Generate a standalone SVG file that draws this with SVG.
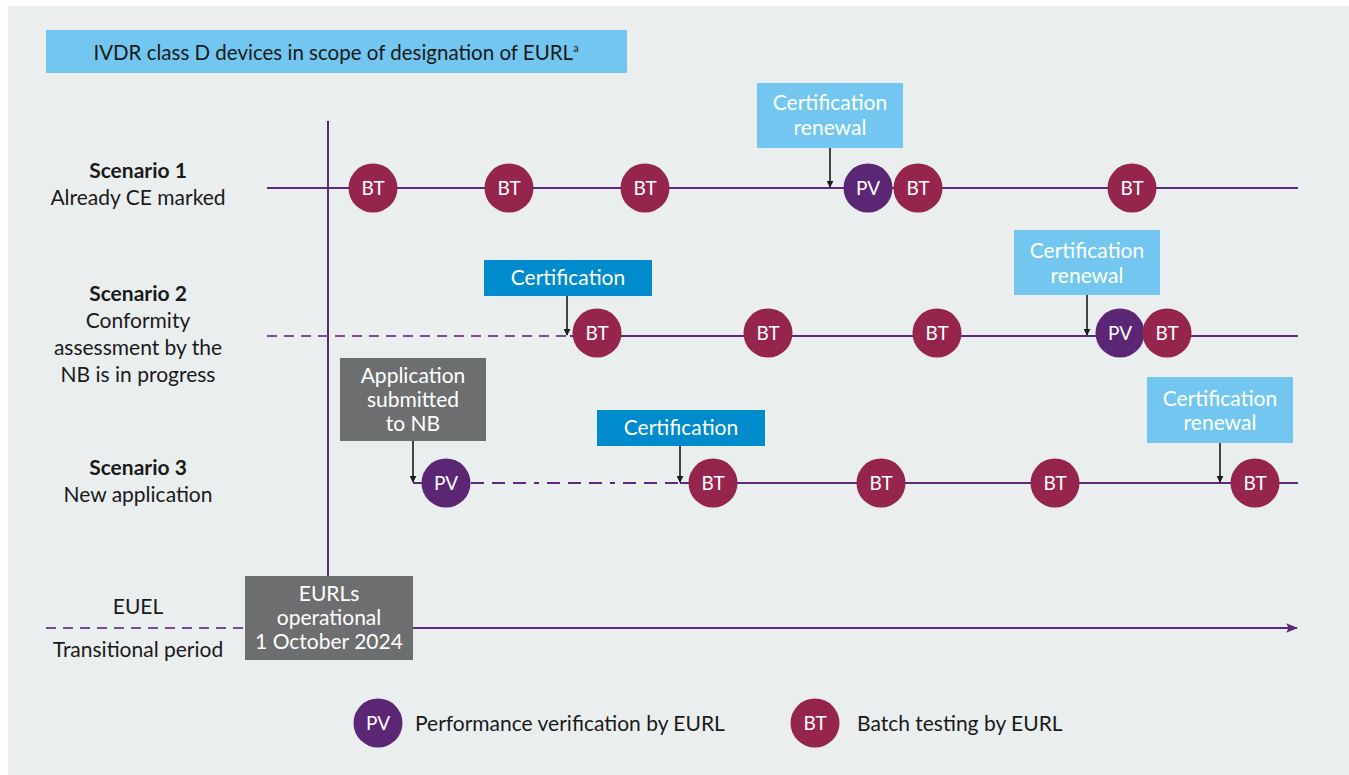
<svg xmlns="http://www.w3.org/2000/svg" width="1349" height="775" viewBox="0 0 1349 775">
<defs>
<style>
.t{font-family:Lato,"Open Sans","Liberation Sans",sans-serif;font-size:21px;fill:#1a1a1a;text-anchor:middle}
.b{font-weight:bold}
.w{fill:#ffffff}
.c{font-size:19px}
.lt{stroke:#5c2a78;stroke-width:2;fill:none}
.ds{stroke-dasharray:10 7;stroke:#7d4c96}
.dd{stroke-dasharray:13 8 13 8 13 8 5 8}
.ar{stroke:#1a1a1a;stroke-width:1.6;fill:none;marker-end:url(#ah)}
.bt{fill:#95254d}
.pv{fill:#5b2775}
.lb{fill:#73c6ef}
.db{fill:#008bcd}
.gr{fill:#6d6e70}
</style>
<marker id="ah" viewBox="0 0 10 10" refX="9" refY="5" markerWidth="7" markerHeight="7" orient="auto" markerUnits="userSpaceOnUse">
<path d="M0,0 L10,5 L0,10 z" fill="#1a1a1a"/>
</marker>
<marker id="ahp" viewBox="0 0 10 10" refX="9" refY="5" markerWidth="12" markerHeight="12" orient="auto" markerUnits="userSpaceOnUse">
<path d="M0,1 L10,5 L0,9 L2,5 z" fill="#5c2a78"/>
</marker>
</defs>
<rect x="0" y="0" width="1349" height="775" fill="#ffffff"/>
<rect x="8" y="6" width="1341" height="769" fill="#eaeeef"/>

<g id="header">
<rect x="46" y="30" width="581" height="43" class="lb"/>
<text x="336" y="60" class="t" style="font-size:20.5px">IVDR class D devices in scope of designation of EURL<tspan font-size="11" dy="-8">a</tspan></text>
</g>

<g id="labels">
<text x="138" y="178" class="t b">Scenario 1</text>
<text x="138" y="205" class="t">Already CE marked</text>
<text x="138" y="301" class="t b">Scenario 2</text>
<text x="138" y="328" class="t">Conformity</text>
<text x="138" y="355" class="t">assessment by the</text>
<text x="138" y="382" class="t">NB is in progress</text>
<text x="138" y="475" class="t b">Scenario 3</text>
<text x="138" y="502" class="t">New application</text>
<text x="138" y="614" class="t">EUEL</text>
<text x="138" y="657" class="t">Transitional period</text>
</g>

<g id="connectors">
<line x1="328" y1="121" x2="328" y2="577" class="lt"/>
<line x1="267" y1="188" x2="1298" y2="188" class="lt"/>
<line x1="267" y1="336" x2="570" y2="336" class="lt ds"/>
<line x1="570" y1="336" x2="1298" y2="336" class="lt"/>
<line x1="413" y1="483" x2="440" y2="483" class="lt"/>
<line x1="471" y1="483" x2="680" y2="483" class="lt dd"/>
<line x1="680" y1="483" x2="1298" y2="483" class="lt"/>
<line x1="46" y1="628" x2="245" y2="628" class="lt ds"/>
<line x1="413" y1="628" x2="1297" y2="628" class="lt" marker-end="url(#ahp)"/>
<line x1="830" y1="148" x2="830" y2="187" class="ar"/>
<line x1="567" y1="296" x2="567" y2="335" class="ar"/>
<line x1="1087" y1="295" x2="1087" y2="335" class="ar"/>
<line x1="413" y1="441" x2="413" y2="482" class="ar"/>
<line x1="680" y1="446" x2="680" y2="482" class="ar"/>
<line x1="1220" y1="443" x2="1220" y2="482" class="ar"/>
</g>

<g id="cert-renewal-1"><rect x="757" y="83" width="146" height="65" class="lb"/><text x="830" y="110" class="t w">Certification</text><text x="830" y="135" class="t w">renewal</text></g>
<g id="cert-2"><rect x="484" y="260" width="168" height="36" class="db"/><text x="568" y="285" class="t w">Certification</text></g>
<g id="cert-renewal-2"><rect x="1014" y="230" width="146" height="65" class="lb"/><text x="1087" y="258" class="t w">Certification</text><text x="1087" y="283" class="t w">renewal</text></g>
<g id="application"><rect x="340" y="358" width="146" height="83" class="gr"/><text x="413" y="383" class="t w">Application</text><text x="413" y="407" class="t w">submitted</text><text x="413" y="431" class="t w">to NB</text></g>
<g id="cert-3"><rect x="597" y="410" width="168" height="36" class="db"/><text x="681" y="435" class="t w">Certification</text></g>
<g id="cert-renewal-3"><rect x="1147" y="377" width="146" height="66" class="lb"/><text x="1220" y="406" class="t w">Certification</text><text x="1220" y="430" class="t w">renewal</text></g>
<g id="eurls"><rect x="245" y="576" width="168" height="84" class="gr"/><text x="329" y="601" class="t w">EURLs</text><text x="329" y="625" class="t w">operational</text><text x="329" y="649" class="t w">1 October 2024</text></g>

<g id="s1-bt1"><circle cx="373" cy="188" r="24.5" class="bt"/><text x="373" y="195" class="t w c">BT</text></g>
<g id="s1-bt2"><circle cx="509" cy="188" r="24.5" class="bt"/><text x="509" y="195" class="t w c">BT</text></g>
<g id="s1-bt3"><circle cx="645" cy="188" r="24.5" class="bt"/><text x="645" y="195" class="t w c">BT</text></g>
<g id="s1-pv"><circle cx="868" cy="188" r="24.5" class="pv"/><text x="868" y="195" class="t w c">PV</text></g>
<g id="s1-bt4"><circle cx="918" cy="188" r="24.5" class="bt"/><text x="918" y="195" class="t w c">BT</text></g>
<g id="s1-bt5"><circle cx="1132" cy="188" r="24.5" class="bt"/><text x="1132" y="195" class="t w c">BT</text></g>

<g id="s2-bt1"><circle cx="597" cy="333" r="24.5" class="bt"/><text x="597" y="340" class="t w c">BT</text></g>
<g id="s2-bt2"><circle cx="768" cy="333" r="24.5" class="bt"/><text x="768" y="340" class="t w c">BT</text></g>
<g id="s2-bt3"><circle cx="937" cy="333" r="24.5" class="bt"/><text x="937" y="340" class="t w c">BT</text></g>
<g id="s2-pv"><circle cx="1120" cy="333" r="24.5" class="pv"/><text x="1120" y="340" class="t w c">PV</text></g>
<g id="s2-bt4"><circle cx="1167" cy="333" r="24.5" class="bt"/><text x="1167" y="340" class="t w c">BT</text></g>

<g id="s3-pv"><circle cx="446" cy="483" r="24.5" class="pv"/><text x="446" y="490" class="t w c">PV</text></g>
<g id="s3-bt1"><circle cx="713" cy="483" r="24.5" class="bt"/><text x="713" y="490" class="t w c">BT</text></g>
<g id="s3-bt2"><circle cx="881" cy="483" r="24.5" class="bt"/><text x="881" y="490" class="t w c">BT</text></g>
<g id="s3-bt3"><circle cx="1055" cy="483" r="24.5" class="bt"/><text x="1055" y="490" class="t w c">BT</text></g>
<g id="s3-bt4"><circle cx="1255" cy="483" r="24.5" class="bt"/><text x="1255" y="490" class="t w c">BT</text></g>

<g id="legend-pv"><circle cx="378" cy="723" r="24.5" class="pv"/><text x="378" y="730" class="t w c">PV</text><text x="415" y="731" class="t" style="text-anchor:start">Performance verification by EURL</text></g>
<g id="legend-bt"><circle cx="815" cy="723" r="24.5" class="bt"/><text x="815" y="730" class="t w c">BT</text><text x="857" y="731" class="t" style="text-anchor:start">Batch testing by EURL</text></g>
</svg>
